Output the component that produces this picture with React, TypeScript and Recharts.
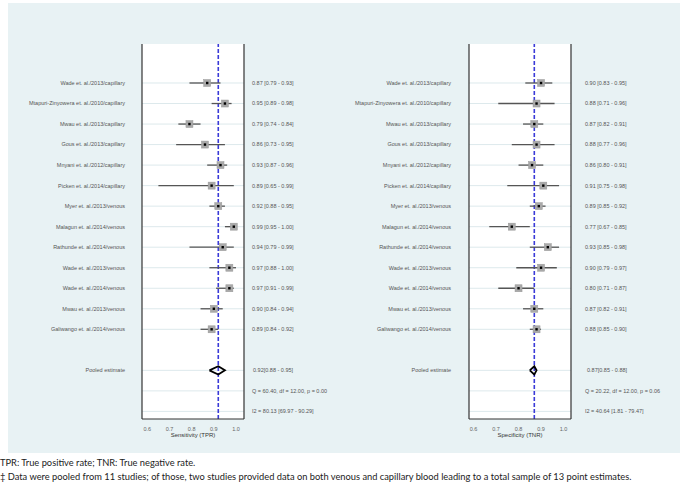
import React from 'react';
import {
  ScatterChart,
  Scatter,
  XAxis,
  YAxis,
  ErrorBar,
  ReferenceLine,
  CartesianGrid,
} from 'recharts';

// study labels (same order on both panels)
const studies = [
  'Wade et. al./2013/capillary',
  'Mtapuri-Zinyowera et. al./2010/capillary',
  'Mwau et. al./2013/capillary',
  'Gous et. al./2013/capillary',
  'Mnyani et. al./2012/capillary',
  'Picken et. al./2014/capillary',
  'Myer et. al./2013/venous',
  'Malagun et. al./2014/venous',
  'Rathunde et. al./2014/venous',
  'Wade et. al./2013/venous',
  'Wade et. al./2014/venous',
  'Mwau et. al./2013/venous',
  'Galiwango et. al./2014/venous',
];

const sensPoint = [0.87, 0.95, 0.79, 0.86, 0.93, 0.89, 0.92, 0.99, 0.94, 0.97, 0.97, 0.90, 0.89];
const sensLow = [0.79, 0.89, 0.74, 0.73, 0.87, 0.65, 0.88, 0.95, 0.79, 0.88, 0.91, 0.84, 0.84];
const sensHigh = [0.93, 0.98, 0.84, 0.95, 0.96, 0.99, 0.95, 1.0, 0.99, 1.0, 0.99, 0.94, 0.92];
const sensPooled = [0.92, 0.88, 0.95];
const sensStats = ['Q = 60.40, df = 12.00, p = 0.00', 'I2 = 80.13 [69.97 - 90.29]'];

const specPoint = [0.90, 0.88, 0.87, 0.88, 0.86, 0.91, 0.89, 0.77, 0.93, 0.90, 0.80, 0.87, 0.88];
const specLow = [0.83, 0.71, 0.82, 0.77, 0.80, 0.75, 0.85, 0.67, 0.85, 0.79, 0.71, 0.82, 0.85];
const specHigh = [0.95, 0.96, 0.91, 0.96, 0.91, 0.98, 0.92, 0.85, 0.98, 0.97, 0.87, 0.91, 0.90];
const specPooled = [0.87, 0.85, 0.88];
const specStats = ['Q = 20.22, df = 12.00, p = 0.06', 'I2 = 40.64 [1.81 - 79.47]'];

const xTicks = [0.6, 0.7, 0.8, 0.9, 1.0];

const POOLED_ROW = 15;
const rowTicks = Array.from({ length: 17 }, (_, i) => i + 1);
const lineRows = rowTicks.filter((r) => r !== 14);
const DIAMOND_H = 0.2;

const fmt = (v: number) => v.toFixed(2);

interface PanelProps {
  point: number[];
  low: number[];
  high: number[];
  pooled: number[];
  stats: string[];
  xLabel: string;
  domain: [number, number];
  leftW: number;
  rightW: number;
  labelGap: number;
  valueGap: number;
  pooledGap: number;
}

const Panel: React.FC<PanelProps> = ({
  point, low, high, pooled, stats, xLabel, domain, leftW, rightW, labelGap, valueGap, pooledGap,
}) => {
  const rows = point.map((p, i) => ({ x: p, y: i + 1, err: [p - low[i], high[i] - p] }));
  const [pp, pl, ph] = pooled;
  const diamond = [
    { x: pl, y: POOLED_ROW },
    { x: pp, y: POOLED_ROW - DIAMOND_H },
    { x: ph, y: POOLED_ROW },
    { x: pp, y: POOLED_ROW + DIAMOND_H },
    { x: pl, y: POOLED_ROW },
  ];

  const rightText = (row: number) => {
    if (row <= studies.length) {
      const i = row - 1;
      return `${fmt(point[i])} [${fmt(low[i])} - ${fmt(high[i])}]`;
    }
    if (row === POOLED_ROW) return `${fmt(pp)}[${fmt(pl)} - ${fmt(ph)}]`;
    if (row === POOLED_ROW + 1) return stats[0];
    if (row === POOLED_ROW + 2) return stats[1];
    return '';
  };

  const LeftTick = (props: any) => {
    const { x, y, payload } = props;
    const row = payload.value;
    const txt = row <= studies.length ? studies[row - 1] : row === POOLED_ROW ? 'Pooled estimate' : '';
    return (
      <text x={x - labelGap} y={y} dy="0.35em" textAnchor="end" fontSize={5.5} fill="#555">
        {txt}
      </text>
    );
  };

  const RightTick = (props: any) => {
    const { x, y, payload } = props;
    const row = payload.value;
    return (
      <text
        x={x + valueGap + (row === POOLED_ROW ? pooledGap : 0)}
        y={y}
        dy="0.35em"
        textAnchor="start"
        fontSize={5.5}
        fill="#555"
      >
        {rightText(row)}
      </text>
    );
  };

  return (
    <ScatterChart
      width={leftW + 102 + rightW}
      height={445}
      margin={{ top: 44, right: 0, bottom: 0, left: 0 }}
      style={{ fontFamily: '"Liberation Sans", Arial, sans-serif' }}
    >
      <CartesianGrid fill="#ffffff" horizontal={false} vertical={false} yAxisId="l" />
      <XAxis
        type="number"
        dataKey="x"
        domain={domain}
        allowDataOverflow
        ticks={xTicks}
        tickFormatter={(v) => v.toFixed(1)}
        tickLine={false}
        tickSize={0}
        tickMargin={8}
        tick={{ fontSize: 5.5, fill: '#666' }}
        axisLine={{ stroke: '#333', strokeWidth: 1.2 }}
        height={26}
        label={{ value: xLabel, position: 'insideBottom', offset: 8, fontSize: 6, fill: '#333' }}
      />
      <YAxis
        yAxisId="l"
        type="number"
        dataKey="y"
        domain={[-0.9, 17.37]}
        allowDataOverflow
        reversed
        ticks={rowTicks}
        interval={0}
        width={leftW}
        tickLine={false}
        tickSize={0}
        tick={<LeftTick />}
        axisLine={{ stroke: '#333', strokeWidth: 1.2 }}
      />
      <YAxis
        yAxisId="r"
        orientation="right"
        type="number"
        dataKey="y"
        domain={[-0.9, 17.37]}
        allowDataOverflow
        reversed
        ticks={rowTicks}
        interval={0}
        width={rightW}
        tickLine={false}
        tickSize={0}
        tick={<RightTick />}
        axisLine={{ stroke: '#333', strokeWidth: 1.2 }}
      />
      {lineRows.map((r) => (
        <ReferenceLine key={r} yAxisId="l" y={r} stroke="#dde9ec" strokeWidth={1} />
      ))}
      <ReferenceLine yAxisId="l" x={pp} stroke="#3a3ad8" strokeWidth={1.6} strokeDasharray="4 2" />
      <Scatter
        yAxisId="l"
        data={rows}
        isAnimationActive={false}
        shape={(p: any) => (
          <g>
            <rect x={p.cx - 3.5} y={p.cy - 3.5} width={7} height={7} fill="#a9a9a9" stroke="#999" strokeWidth={0.5} />
            <rect x={p.cx - 1.2} y={p.cy - 1.2} width={2.4} height={2.4} fill="#000" />
          </g>
        )}
      >
        <ErrorBar dataKey="err" direction="x" width={0} stroke="#555" strokeWidth={1.3} isAnimationActive={false} />
      </Scatter>
      <Scatter
        yAxisId="l"
        data={diamond}
        isAnimationActive={false}
        line={{ stroke: '#000', strokeWidth: 1.8 }}
        lineType="joint"
        shape={() => <g />}
      />
    </ScatterChart>
  );
};

const App: React.FC = () => (
  <div style={{ position: 'absolute', left: 0, top: 0, width: 685, height: 484, background: '#fff' }}>
    <div style={{ position: 'absolute', left: 8, top: 3, width: 672, height: 450, background: '#e8f2f4' }} />
    <div style={{ position: 'absolute', left: 0, top: 0 }}>
      <Panel
        point={sensPoint}
        low={sensLow}
        high={sensHigh}
        pooled={sensPooled}
        stats={sensStats}
        xLabel="Sensitivity (TPR)"
        domain={[0.576, 1.036]}
        leftW={142}
        rightW={98}
        labelGap={15}
        valueGap={6}
        pooledGap={1}
      />
    </div>
    <div style={{ position: 'absolute', left: 342, top: 0 }}>
      <Panel
        point={specPoint}
        low={specLow}
        high={specHigh}
        pooled={specPooled}
        stats={specStats}
        xLabel="Specificity (TNR)"
        domain={[0.58, 1.033]}
        leftW={127}
        rightW={114}
        labelGap={16}
        valueGap={12}
        pooledGap={2}
      />
    </div>
    <div
      style={{
        position: 'absolute',
        left: 0,
        top: 456,
        fontFamily: 'Lato, "Open Sans", sans-serif',
        fontSize: 9.3,
        lineHeight: '14px',
        color: '#222',
        whiteSpace: 'nowrap',
      }}
    >
      <div>TPR: True positive rate; TNR: True negative rate.</div>
      <div>‡ Data were pooled from 11 studies; of those, two studies provided data on both venous and capillary blood leading to a total sample of 13 point estimates.</div>
    </div>
  </div>
);

export default App;
